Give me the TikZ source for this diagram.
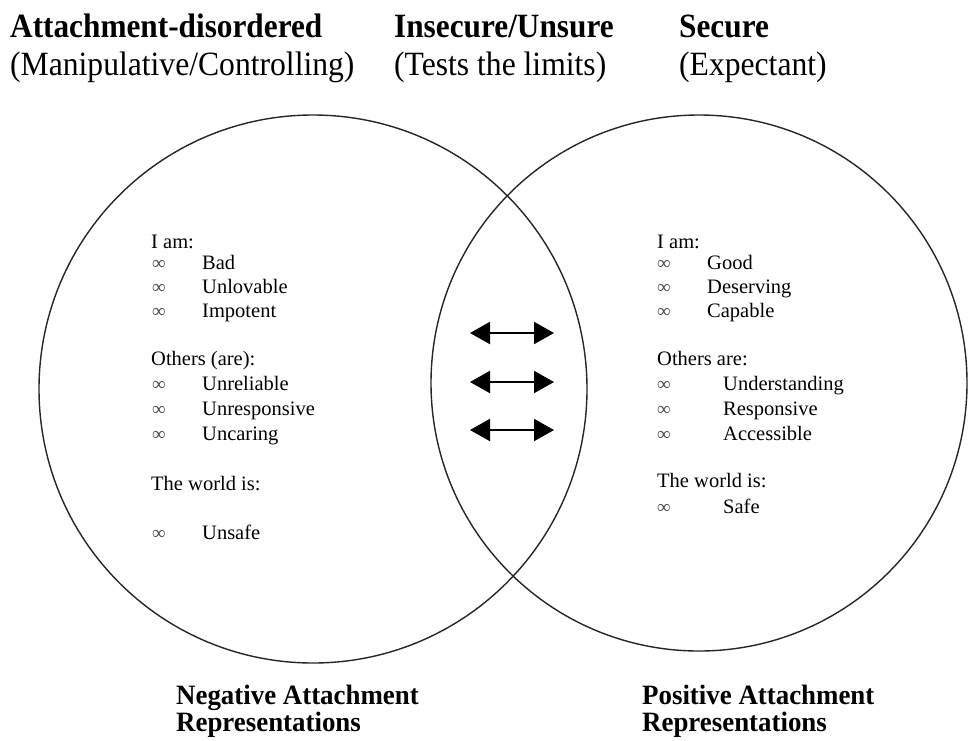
\documentclass[tikz,border=0pt]{standalone}
\usepackage{fontspec}
\setmainfont{Liberation Serif}
\usetikzlibrary{arrows.meta}
\tikzset{
  ring/.style={draw=black!85, line width=1.4pt, circle, inner sep=0pt},
  head/.style={anchor=base west, inner sep=0pt, font=\fontsize{34}{38}\selectfont\bfseries, xscale=0.92},
  sub/.style={anchor=base west, inner sep=0pt, font=\fontsize{34}{38}\selectfont, xscale=0.93},
  foot/.style={anchor=base west, inner sep=0pt, font=\fontsize{28}{30}\selectfont\bfseries, xscale=0.96},
  txt/.style={anchor=base west, inner sep=0pt, font=\fontsize{20.5}{24}\selectfont},
  bul/.style={anchor=base west, inner sep=0pt, font=\fontsize{19}{22}\selectfont, text=black!70},
  dbl/.style={{Triangle[length=20pt,width=22pt]}-{Triangle[length=20pt,width=22pt]}, line width=2pt}
}
\begin{document}
\begin{tikzpicture}[x=1pt,y=-1pt]
\useasboundingbox (0,0) rectangle (968,740);
% circles
\node[ring, minimum size=548pt] (L) at (313,389) {};
\node[ring, minimum size=536pt] (R) at (699,383) {};
% headers
\node[head] (h1) at (10,37) {Attachment-disordered};
\node[sub]  (s1) at (10,75) {(Manipulative/Controlling)};
\node[head] (h2) at (394,37) {Insecure/Unsure};
\node[sub]  (s2) at (394,75) {(Tests the limits)};
\node[head] (h3) at (679,37) {Secure};
\node[sub]  (s3) at (679,75) {(Expectant)};
% left column
\node[txt] (la) at (151,248) {I am:};
\node[bul] (lb1) at (152,269) {∞}; \node[txt] (li1) at (202,269) {Bad};
\node[bul] (lb2) at (152,293) {∞}; \node[txt] (li2) at (202,293) {Unlovable};
\node[bul] (lb3) at (152,317) {∞}; \node[txt] (li3) at (202,317) {Impotent};
\node[txt] (lo) at (151,365) {Others (are):};
\node[bul] (lb4) at (152,390) {∞}; \node[txt] (li4) at (202,390) {Unreliable};
\node[bul] (lb5) at (152,415) {∞}; \node[txt] (li5) at (202,415) {Unresponsive};
\node[bul] (lb6) at (152,440) {∞}; \node[txt] (li6) at (202,440) {Uncaring};
\node[txt] (lw) at (151,490) {The world is:};
\node[bul] (lb7) at (152,539) {∞}; \node[txt] (li7) at (202,539) {Unsafe};
% right column
\node[txt] (ra) at (657,248) {I am:};
\node[bul] (rb1) at (657,269) {∞}; \node[txt] (ri1) at (707,269) {Good};
\node[bul] (rb2) at (657,293) {∞}; \node[txt] (ri2) at (707,293) {Deserving};
\node[bul] (rb3) at (657,317) {∞}; \node[txt] (ri3) at (707,317) {Capable};
\node[txt] (ro) at (657,365) {Others are:};
\node[bul] (rb4) at (657,390) {∞}; \node[txt] (ri4) at (723,390) {Understanding};
\node[bul] (rb5) at (657,415) {∞}; \node[txt] (ri5) at (723,415) {Responsive};
\node[bul] (rb6) at (657,440) {∞}; \node[txt] (ri6) at (723,440) {Accessible};
\node[txt] (rw) at (657,487) {The world is:};
\node[bul] (rb7) at (657,513) {∞}; \node[txt] (ri7) at (723,513) {Safe};
% arrows
\coordinate (a1l) at (470,333); \coordinate (a1r) at (554,333);
\coordinate (a2l) at (470,382); \coordinate (a2r) at (554,382);
\coordinate (a3l) at (470,430); \coordinate (a3r) at (554,430);
\draw[dbl] (a1l) -- (a1r);
\draw[dbl] (a2l) -- (a2r);
\draw[dbl] (a3l) -- (a3r);
% footers
\node[foot] (f1) at (176,704) {Negative Attachment};
\node[foot] (f2) at (176,731) {Representations};
\node[foot] (f3) at (642,704) {Positive Attachment};
\node[foot] (f4) at (642,731) {Representations};
\end{tikzpicture}
\end{document}
